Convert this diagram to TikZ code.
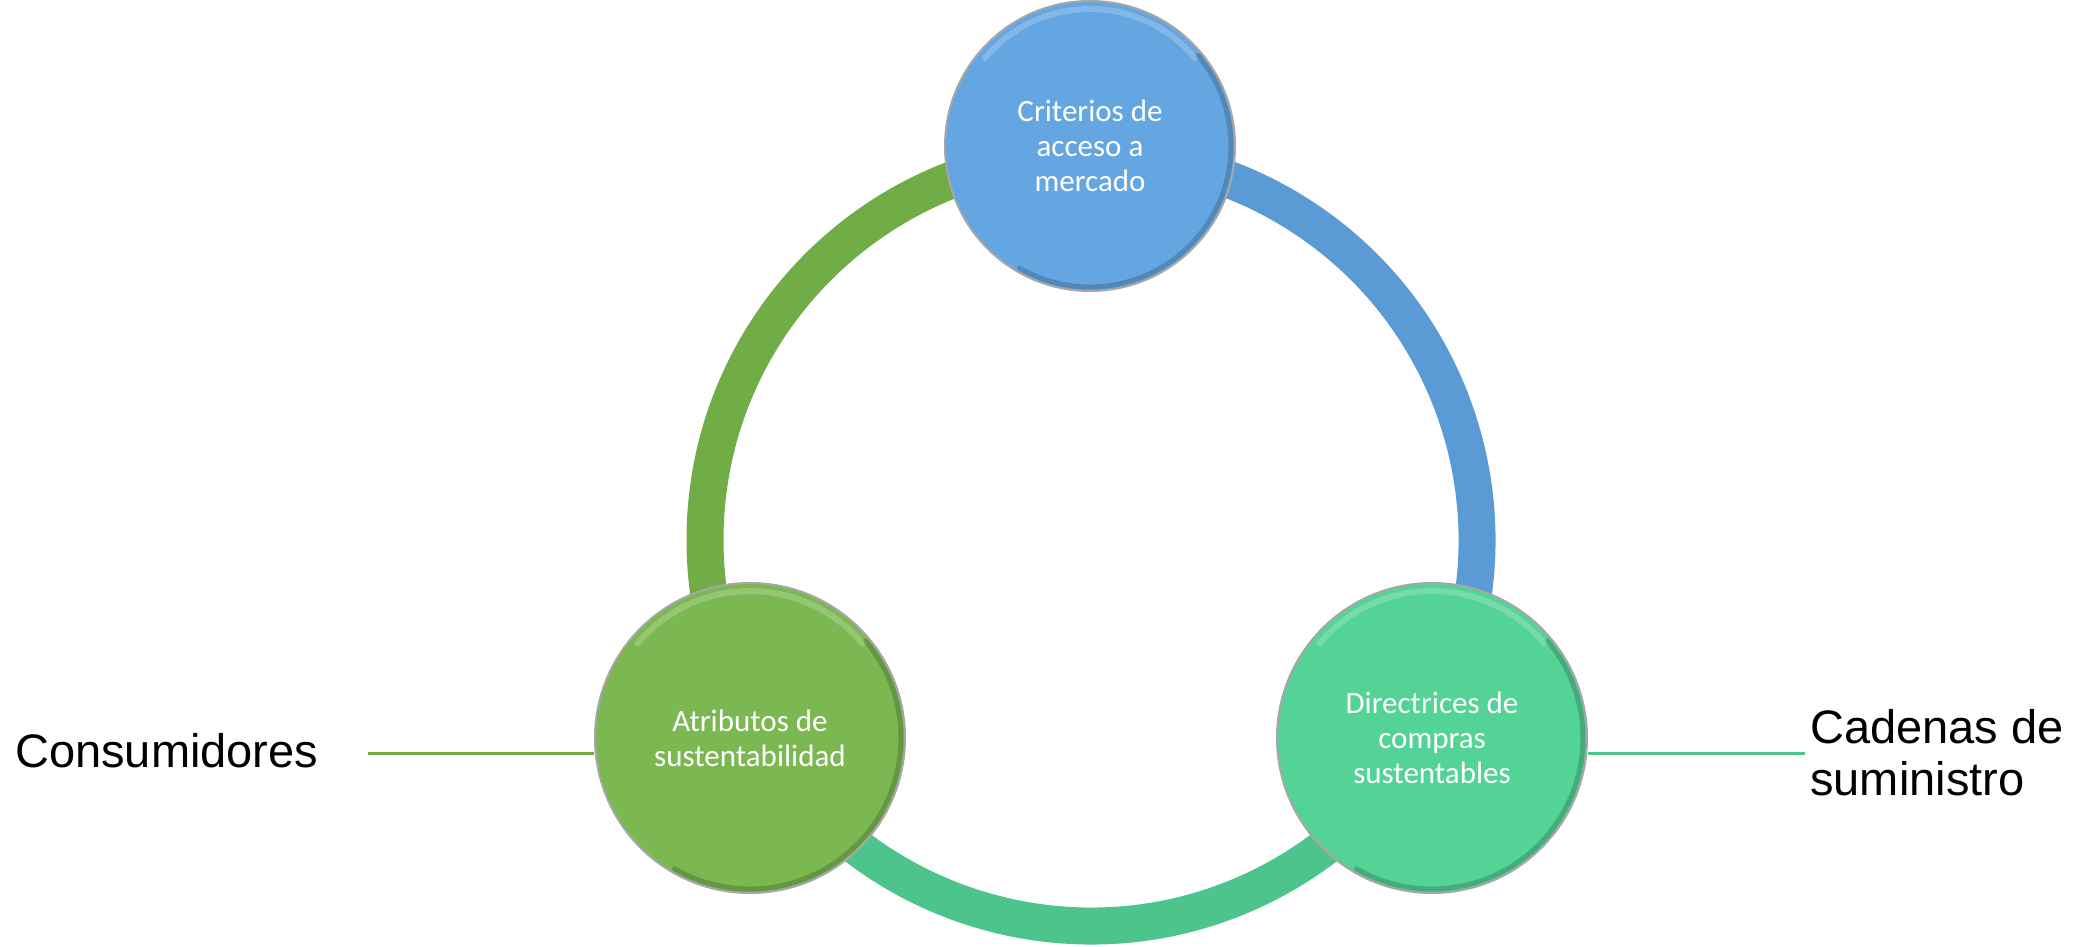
\documentclass[tikz,border=0pt]{standalone}
\usepackage{fontspec}
\setmainfont{Liberation Sans}
\newfontfamily\calibri{Carlito}
\usetikzlibrary{positioning}
\definecolor{ringGreen}{HTML}{70AD47}
\definecolor{ringBlue}{HTML}{5B9BD5}
\definecolor{ringTeal}{HTML}{4CC48B}
\definecolor{fillBlue}{HTML}{63A6E1}
\definecolor{fillGreen}{HTML}{7CB852}
\definecolor{fillTeal}{HTML}{54D397}

\begin{document}
\begin{tikzpicture}[x=1pt,y=1pt,
	bubble/.style={circle,draw=gray!70,line width=2,inner sep=0,minimum size=310,text=white,align=center,
		font=\calibri\fontsize{31}{35}\selectfont},
	arcpart/.style={line width=37},
	outlabel/.style={inner sep=0,align=left,font=\fontsize{47}{52}\selectfont},
	leader/.style={line width=3}
	]
	\useasboundingbox (0,0) rectangle (2091,946);
	\coordinate (ctr) at (1091,406);
	% ring
	\draw[arcpart,ringGreen] ([shift={(90:386)}]ctr) arc[start angle=90,end angle=210,radius=386];
	\draw[arcpart,ringTeal] ([shift={(210:386)}]ctr) arc[start angle=210,end angle=330,radius=386];
	\draw[arcpart,ringBlue] ([shift={(330:386)}]ctr) arc[start angle=330,end angle=450,radius=386];
	% circles
	\node[bubble,fill=fillBlue,minimum size=290] (crit) at (1090,800) {Criterios de\\acceso a\\mercado};
	\node[bubble,fill=fillGreen] (atrib) at (750,208) {Atributos de\\sustentabilidad};
	\node[bubble,fill=fillTeal] (direc) at (1432,208) {Directrices de\\compras\\sustentables};
	% bevel light and shade
	\foreach \n/\r in {crit/145,atrib/155,direc/155}{
		\draw[white,opacity=.2,line width=6,line cap=round] ([shift={(140:\r-8)}]\n.center) arc[start angle=140,end angle=40,radius=\r-8];
		\draw[black,opacity=.18,line width=5,line cap=round] ([shift={(-120:\r-4)}]\n.center) arc[start angle=-120,end angle=40,radius=\r-4];
	}
	% outside labels
	\coordinate (consEnd) at (368,193);
	\node[outlabel,anchor=west] (cons) at (15,195) {Consumidores};
	\draw[leader,ringGreen] (consEnd) -- (atrib.west |- consEnd);
	\coordinate (cadEnd) at (1805,193);
	\node[outlabel,right=5 of cadEnd] (cad) {Cadenas de\\suministro};
	\draw[leader,ringTeal] (direc.east |- cadEnd) -- (cadEnd);
\end{tikzpicture}
\end{document}
